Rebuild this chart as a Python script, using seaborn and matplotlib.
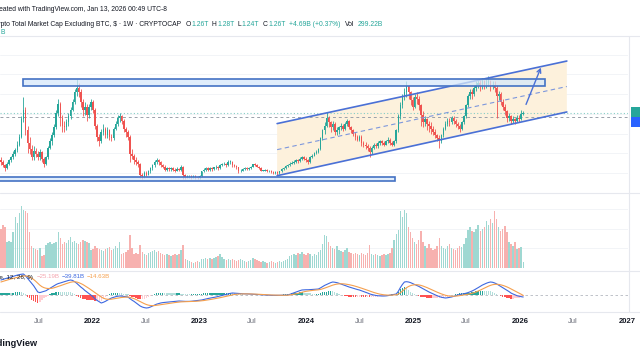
import matplotlib
matplotlib.use("Agg")
import matplotlib.pyplot as plt
import matplotlib.dates as mdates
from matplotlib.patches import Rectangle, Polygon
from matplotlib.lines import Line2D
import numpy as np
import pandas as pd
import seaborn as sns

# ---- weekly candles, values in T ----
first_week = "2021-02-22"
first_open = 0.66
closes = [
    .64, .60, .56, .62, .66, .70, .74, .79, .86, .96,
    1.18, 1.30, 1.05, .88, .80, .70, .78, .74, .70, .76,
    .68, .62, .70, .82, .90, .98, 1.08, 1.26, 1.38, 1.20,
    1.10, 1.08, 1.14, 1.22, 1.30, 1.40, 1.52, 1.58, 1.52, 1.40,
    1.30, 1.34, 1.24, 1.34, 1.40, 1.30, 1.10, .96, .90, 1.02,
    1.06, .98, 1.04, .96, .94, 1.06, 1.12, 1.20, 1.22, 1.16,
    1.06, 1.02, .96, .74, .72, .66, .64, .62, .48, .46,
    .50, .48, .52, .56, .60, .64, .66, .64, .60, .58,
    .54, .56, .55, .56, .54, .53, .55, .54, .58, .47,
    .45, .46, .46, .45, .46, .45, .44, .46, .52, .54,
    .56, .54, .56, .55, .57, .58, .56, .60, .61, .62,
    .60, .64, .64, .60, .59, .57, .52, .53, .55, .56,
    .55, .56, .58, .61, .60, .58, .56, .53, .53, .54,
    .52, .53, .51, .50, .51, .50, .52, .55, .56, .59,
    .60, .62, .63, .64, .66, .65, .68, .70, .68, .66,
    .64, .70, .72, .75, .76, .80, .94, 1.04, 1.10, 1.20,
    1.14, 1.08, 1.12, 1.02, 1.04, 1.08, 1.10, 1.06, 1.12, 1.16,
    1.08, 1.04, 1.00, .96, .92, .96, .88, .86, .84, .82,
    .76, .82, .86, .84, .88, .90, .88, .86, .90, .92,
    .88, .86, .90, 1.04, 1.22, 1.36, 1.46, 1.52, 1.60, 1.52,
    1.42, 1.34, 1.46, 1.44, 1.36, 1.24, 1.14, 1.18, 1.12, 1.10,
    1.06, 1.02, .98, .94, .90, .98, 1.06, 1.12, 1.16, 1.14,
    1.20, 1.16, 1.12, 1.10, 1.06, 1.14, 1.22, 1.36, 1.48, 1.52,
    1.50, 1.58, 1.62, 1.64, 1.60, 1.66, 1.62, 1.64, 1.66, 1.60,
    1.62, 1.58, 1.48, 1.50, 1.40, 1.34, 1.28, 1.20, 1.22, 1.16,
    1.18, 1.16, 1.20, 1.18, 1.25, 1.26,
]
highs = [
    .70, .66, .62, .64, .68, .72, .78, .82, .90, 1.00,
    1.22, 1.46, 1.34, 1.10, .96, .86, .84, .82, .78, .80,
    .78, .70, .72, .84, .94, 1.02, 1.12, 1.30, 1.44, 1.40,
    1.24, 1.16, 1.18, 1.26, 1.34, 1.44, 1.56, 1.69, 1.64, 1.56,
    1.44, 1.40, 1.38, 1.38, 1.44, 1.42, 1.32, 1.12, 1.00, 1.06,
    1.12, 1.08, 1.08, 1.06, 1.00, 1.08, 1.16, 1.24, 1.26, 1.24,
    1.18, 1.08, 1.04, .98, .80, .74, .70, .66, .63, .50,
    .52, .52, .54, .58, .62, .66, .69, .68, .65, .62,
    .60, .58, .58, .58, .57, .56, .57, .56, .60, .59,
    .49, .48, .48, .47, .47, .47, .46, .47, .53, .56,
    .58, .58, .57, .58, .58, .60, .59, .61, .63, .64,
    .63, .66, .67, .65, .61, .60, .58, .55, .56, .58,
    .57, .57, .59, .62, .63, .61, .59, .57, .54, .55,
    .55, .54, .54, .52, .52, .52, .53, .56, .58, .60,
    .62, .64, .65, .66, .68, .68, .70, .72, .72, .70,
    .68, .72, .74, .77, .79, .82, .96, 1.06, 1.14, 1.27,
    1.22, 1.16, 1.16, 1.14, 1.08, 1.10, 1.13, 1.12, 1.14, 1.19,
    1.17, 1.10, 1.06, 1.02, .98, .98, .98, .91, .89, .87,
    .84, .84, .88, .88, .90, .92, .92, .90, .92, .95,
    .94, .90, .92, 1.06, 1.25, 1.40, 1.50, 1.58, 1.66, 1.62,
    1.54, 1.46, 1.50, 1.52, 1.48, 1.38, 1.28, 1.22, 1.20, 1.16,
    1.14, 1.10, 1.06, 1.00, .98, 1.00, 1.08, 1.16, 1.20, 1.20,
    1.22, 1.22, 1.18, 1.15, 1.12, 1.16, 1.24, 1.38, 1.50, 1.56,
    1.56, 1.62, 1.66, 1.68, 1.68, 1.70, 1.68, 1.70, 1.73, 1.68,
    1.66, 1.66, 1.62, 1.54, 1.52, 1.44, 1.38, 1.30, 1.26, 1.24,
    1.22, 1.20, 1.23, 1.24, 1.30, 1.28,
]
lows = [
    .60, .57, .53, .55, .60, .64, .68, .72, .76, .84,
    .94, 1.14, .98, .75, .74, .66, .66, .70, .66, .66,
    .64, .58, .60, .68, .80, .86, .96, 1.06, 1.22, 1.10,
    1.02, 1.02, 1.04, 1.10, 1.18, 1.28, 1.38, 1.48, 1.46, 1.34,
    1.22, 1.24, 1.16, 1.20, 1.30, 1.26, 1.06, .90, .84, .88,
    .98, .94, .94, .92, .90, .92, 1.04, 1.10, 1.14, 1.12,
    1.02, .96, .92, .64, .68, .62, .60, .58, .44, .43,
    .44, .46, .47, .50, .54, .58, .62, .60, .58, .56,
    .52, .52, .53, .53, .52, .51, .52, .52, .53, .43,
    .43, .44, .44, .43, .44, .43, .43, .43, .45, .51,
    .53, .52, .53, .53, .54, .55, .54, .55, .59, .60,
    .58, .59, .62, .58, .57, .55, .50, .51, .52, .54,
    .54, .54, .55, .57, .59, .57, .55, .52, .52, .52,
    .51, .51, .50, .49, .49, .48, .49, .51, .54, .55,
    .58, .59, .61, .62, .63, .63, .64, .66, .66, .64,
    .61, .63, .69, .71, .74, .75, .79, .92, 1.00, 1.08,
    1.08, 1.02, 1.04, .98, .98, 1.00, 1.05, 1.03, 1.04, 1.10,
    1.06, 1.01, .97, .92, .90, .90, .84, .83, .80, .78,
    .70, .74, .80, .82, .82, .86, .86, .84, .85, .88,
    .86, .84, .84, .88, 1.02, 1.18, 1.32, 1.42, 1.46, 1.44,
    1.36, 1.30, 1.32, 1.38, 1.30, 1.10, 1.08, 1.10, 1.04, 1.02,
    1.00, .98, .94, .90, .82, .88, .96, 1.04, 1.10, 1.10,
    1.12, 1.12, 1.08, 1.06, 1.02, 1.04, 1.12, 1.20, 1.34, 1.44,
    1.44, 1.48, 1.54, 1.58, 1.54, 1.56, 1.56, 1.58, 1.60, 1.54,
    1.56, 1.52, 1.20, 1.42, 1.36, 1.30, 1.24, 1.14, 1.16, 1.12,
    1.13, 1.12, 1.14, 1.15, 1.17, 1.24,
]
# weekly volume, B
volumes = [
    2000, 2200, 2100, 1300, 1350, 1300, 1800, 2600, 2300, 2800, 3150,
    2950, 2900, 2800, 1800, 1100, 1000, 950, 900, 1000, 600, 650,
    1150, 1250, 1300, 1200, 1250, 1300, 1800, 1500,
    1200, 1300, 1250, 1400, 1550, 1300, 1350, 1250, 1200, 1300,
    1400, 1350, 1300, 1250, 900, 950, 1100, 1000, 950, 900, 850, 950,
    1000, 1050, 900, 950, 1100, 1000, 1300, 700, 750, 800, 900, 1650,
    1000, 700, 750, 700, 1150,
    800, 700, 650, 750, 800, 850, 900, 800, 850, 750, 700, 650, 700,
    650, 600, 650, 700, 650, 700, 900, 1150,
    450, 400, 350, 300, 250, 300, 350, 300,
    450, 450, 500, 450, 500, 450, 500, 550, 600, 700, 550,
    450, 400, 450, 400, 450, 400, 350, 400, 450, 400, 350, 300, 350, 400,
    500, 450, 400, 350, 300, 350, 300, 250, 300, 350, 300, 250, 300, 350,
    300, 350, 400, 450,
    600, 650, 700, 650, 750, 700, 800, 700, 650, 750, 700,
    600, 700, 650, 800, 900, 1200, 1650, 1600, 1300,
    1100, 1000, 950, 1100, 900, 850, 800, 900, 1000,
    800, 750, 700, 750, 700, 650, 750, 700, 650, 750, 1150,
    700, 650, 700, 650, 600, 650, 700, 650, 700, 750,
    1000, 1400, 1700, 1950, 2900, 2600, 2950, 2800,
    2100, 1800, 1500, 1300, 1200, 1400, 1900,
    1300, 1100, 1000, 1200, 1000, 900, 950, 1100, 1500, 1100,
    1000, 950, 1100, 1200, 1000, 950, 900, 1000, 1100, 1050, 1200,
    1500, 1950, 2100, 1900, 1800, 2000, 2200, 1900,
    2000, 2100, 2400, 2200, 2500, 2300, 2900, 2500,
    2100, 1900, 2000, 2150, 1800, 1300, 1200, 1100, 1300, 950, 1000,
    1050, 299,
]
# MACD (12, 26, 9) lines, B
macd_line = [
    232, 242, 252, 262, 272, 280, 290, 300, 310, 318, 324, 328,
    300, 260, 220, 180, 140, 90, 40, 30, 40,
    50, 60, 80, 100, 120, 140, 160, 175, 184,
    195, 205, 215, 225, 232, 225, 205, 180,
    150, 120, 95, 65, 40, 15, -10, -35,
    -72, -95, -115, -136, -125, -110, -90, -72,
    -56, -45, -35, -28, -24, -26, -30, -35, -40,
    -65, -90, -110, -135, -160, -184, -200, -210, -216,
    -212, -200, -185, -170, -155, -145, -136, -130, -126,
    -123, -120, -118, -115, -112, -108, -104, -106, -108,
    -110, -110, -110, -108, -104, -100, -96, -92, -88,
    -80, -72, -65, -58, -52, -46, -40, -32,
    -24, -15, -6, 2, 10, 18, 24,
    22, 20, 17, 14, 12, 10, 10, 8,
    6, 4, 2, 0, -2, -4, -6, -8,
    -10, -12, -13, -14, -14, -14, -13, -12, -11, -10, -8,
    2, 14, 26, 38, 50, 62, 72,
    74, 76, 76, 78, 80, 82, 85, 88,
    105, 125, 145, 160, 175, 190, 200,
    196, 190, 180, 168, 156, 144, 132, 120,
    110, 100, 90, 80, 72, 60, 48, 36, 24, 10,
    0, -8, -15, -20, -22, -24, -24, -22, -18, -10,
    -4, 2, 8, 50, 110, 160, 200,
    205, 200, 190, 175, 160, 145, 130,
    112, 95, 78, 60, 40, 25, 10, -5, -20,
    -32, -44, -50, -56, -52, -46, -40,
    -30, -20, -8, 0, 6, 12, 20,
    30, 42, 56, 72, 90, 110, 130, 150,
    165, 180, 192, 200, 196, 185, 170,
    150, 130, 110, 90, 70, 48, 24,
    8, -5, -20, -28, -35, -40,
]
signal_line = [
    200, 210, 220, 230, 240, 250, 258, 266, 274, 282, 290, 296,
    298, 292, 280, 262, 240, 212, 180, 150, 126,
    110, 100, 96, 96, 100, 108, 118, 130, 140,
    152, 164, 175, 186, 196, 202, 204, 200,
    190, 176, 160, 140, 120, 98, 75, 52,
    28, 5, -15, -40, -58, -70, -76, -78,
    -75, -70, -64, -58, -52, -47, -44, -42, -41,
    -46, -55, -66, -80, -96, -113, -130, -146, -160,
    -170, -176, -178, -177, -173, -168, -163, -157, -152,
    -147, -142, -137, -133, -129, -125, -121, -118, -116,
    -115, -114, -113, -112, -111, -109, -107, -104, -101,
    -97, -92, -87, -82, -76, -70, -64, -58,
    -51, -44, -37, -29, -22, -14, -6,
    0, 4, 7, 9, 10, 10, 10, 10,
    9, 8, 7, 5, 3, 2, 0, -2,
    -4, -6, -8, -9, -10, -11, -12, -12, -12, -12, -11,
    -8, -3, 3, 10, 18, 27, 36,
    44, 51, 56, 61, 65, 69, 72, 75,
    81, 90, 101, 113, 125, 138, 150,
    159, 166, 170, 172, 171, 168, 163, 157,
    150, 142, 133, 123, 113, 102, 91, 80, 68, 56,
    44, 33, 23, 14, 6, 0, -5, -8, -10, -10,
    -9, -7, -4, 6, 27, 53, 82,
    108, 128, 142, 151, 156, 157, 154,
    146, 136, 124, 111, 96, 82, 67, 52, 37,
    23, 10, -1, -12, -20, -25, -28,
    -28, -26, -23, -18, -14, -9, -4,
    3, 10, 19, 29, 41, 55, 70, 86,
    102, 118, 133, 146, 156, 162, 164,
    161, 155, 146, 135, 122, 107, 90,
    74, 57, 40, 22, 4, -15,
]

# ---- drawings on the chart ----
channel_dates = ["2023-09-24", "2026-06-10"]
channel_upper = [1.126, 1.918]
channel_lower = [0.466, 1.273]
top_zone_dates = ["2021-05-09", "2026-03-28"]
top_zone = [1.602, 1.687]
bottom_zone_dates = ["2020-12-01", "2024-10-31"]
bottom_zone = [0.403, 0.454]
arrow_dates = ["2026-01-18", "2026-03-17"]
arrow_values = [1.336, 1.868]
last_price = 1.26
ref_level = 1.21

tick_dates = ["2021-07-01", "2022-01-01", "2022-07-01", "2023-01-01", "2023-07-01",
              "2024-01-01", "2024-07-01", "2025-01-01", "2025-07-01", "2026-01-01",
              "2026-07-01", "2027-01-01"]
tick_labels = ["Jul", "2022", "Jul", "2023", "Jul", "2024", "Jul", "2025", "Jul",
               "2026", "Jul", "2027"]
x_range = ["2021-02-19", "2027-01-05"]
price_grid = [0.5, 0.75, 1.0, 1.25, 1.5, 1.75, 2.0]
volume_grid = [1000, 2000, 3000]

UP, DOWN = "#26a69a", "#ef5350"
VUP, VDOWN = "#9fd8d2", "#f7b1af"
BLUE = "#4a70d6"
TXT = "#131722"

weeks = pd.date_range(first_week, periods=len(closes), freq="7D")
df = pd.DataFrame({"date": weeks, "close": closes, "high": highs, "low": lows,
                   "volume": volumes, "macd": macd_line, "signal": signal_line})
df["open"] = [first_open] + closes[:-1]
df["x"] = mdates.date2num(df["date"])
df["up"] = df["close"] >= df["open"]
df["hist"] = df["macd"] - df["signal"]

sns.set_style("white")
plt.rcParams["font.family"] = ["Liberation Sans", "DejaVu Sans"]

W, H = 640, 360
fig = plt.figure(figsize=(6.4, 3.6), dpi=100)


def pane(top, bottom):
    return fig.add_axes([0, 1 - bottom / H, 628 / W, (bottom - top) / H])


ax_p = pane(36, 190)
ax_v = pane(195, 268)
ax_m = pane(273, 312)
xl = mdates.date2num(pd.to_datetime(x_range))

# price pane
for g in price_grid:
    ax_p.axhline(g, color="#f0f2f6", lw=0.6, zorder=0)

cx = mdates.date2num(pd.to_datetime(channel_dates))
ax_p.add_patch(Polygon([(cx[0], channel_lower[0]), (cx[1], channel_lower[1]),
                        (cx[1], channel_upper[1]), (cx[0], channel_upper[0])],
                       closed=True, fc="#fdf1dc", ec="none", zorder=1))

cols = np.where(df["up"], UP, DOWN)
ax_p.vlines(df["x"], df["low"], df["high"], colors=cols, lw=0.6, zorder=3)
body_lo = np.minimum(df["open"], df["close"])
body_h = np.maximum(np.abs(df["close"] - df["open"]), 0.006)
ax_p.bar(df["x"], body_h, bottom=body_lo, width=5.2, color=cols, lw=0, zorder=4)

ax_p.plot(cx, channel_upper, color=BLUE, lw=1.2, zorder=5)
ax_p.plot(cx, channel_lower, color=BLUE, lw=1.2, zorder=5)
ax_p.plot(cx, [(a + b) / 2 for a, b in zip(channel_upper, channel_lower)],
          color="#7d97dc", lw=0.8, ls=(0, (4, 3)), zorder=5)

for dates, (lo, hi) in ((top_zone_dates, top_zone), (bottom_zone_dates, bottom_zone)):
    zx = mdates.date2num(pd.to_datetime(dates))
    ax_p.add_patch(Rectangle((zx[0], lo), zx[1] - zx[0], hi - lo,
                             fc=(0.84, 0.91, 0.98, 0.75), ec="#4472c4", lw=1.2, zorder=6))

ax_p.axhline(last_price, color="#86cdc5", lw=0.8, ls=(0, (1, 2)), zorder=2)
ax_p.axhline(ref_level, color="#9aa0aa", lw=0.7, ls=(0, (3, 3)), zorder=2)

arr_x = mdates.date2num(pd.to_datetime(arrow_dates))
ax_p.annotate("", xy=(arr_x[1], arrow_values[1]), xytext=(arr_x[0], arrow_values[0]),
              arrowprops=dict(arrowstyle="->", color=BLUE, lw=1.0, mutation_scale=7),
              zorder=7)
ax_p.set_ylim(0.285, 2.235)
ax_p.set_xticks([])

# volume pane
for g in volume_grid:
    ax_v.axhline(g, color="#f0f2f6", lw=0.6, zorder=0)
ax_v.bar(df["x"], df["volume"], width=4.8, color=np.where(df["up"], VUP, VDOWN),
         lw=0, zorder=2)
ax_v.set_ylim(0, 3700)
ax_v.set_xticks([])

# MACD pane
ax_m.axhline(0, color="#b4b8c0", lw=0.6, ls=(0, (3, 3)), zorder=1)
prev = df["hist"].shift(1).fillna(0)
hcols = np.where(df["hist"] >= 0,
                 np.where(df["hist"] >= prev, "#26a69a", "#b2dfdb"),
                 np.where(df["hist"] < prev, "#ff5252", "#ffcdd2"))
ax_m.bar(df["x"], df["hist"], width=4.8, color=hcols, lw=0, zorder=2)
sns.lineplot(x=df["x"], y=df["macd"], ax=ax_m, color="#3d68e0", lw=0.8, zorder=3)
sns.lineplot(x=df["x"], y=df["signal"], ax=ax_m, color="#f5a04e", lw=0.8, zorder=3)
ax_m.set_xlabel("")
ax_m.set_ylabel("")
ax_m.set_ylim(-280, 344)
ax_m.set_xticks(mdates.date2num(pd.to_datetime(tick_dates)))
ax_m.set_xticklabels(tick_labels)
ax_m.tick_params(axis="x", length=0, pad=4.5, labelsize=5.5)
for lab in ax_m.get_xticklabels():
    if lab.get_text() == "Jul":
        lab.set_color("#6a6d78")
    else:
        lab.set_color(TXT)
        lab.set_fontweight("bold")

for ax in (ax_p, ax_v, ax_m):
    ax.set_xlim(xl)
    for s in ax.spines.values():
        s.set_visible(False)
    ax.set_yticks([])
    ax.set_facecolor("white")

# separators
for yy in (36, 192.5, 271, 312):
    fig.add_artist(Line2D([0, 1], [1 - yy / H] * 2, color="#e6e8ee", lw=0.8))
fig.add_artist(Line2D([628.5 / W] * 2, [1 - 312 / H, 1 - 36 / H], color="#e6e8ee", lw=0.8))

# price scale labels (cut off at the right edge)
fig.add_artist(Rectangle((631 / W, 1 - 117 / H), 9 / W, 10 / H, transform=fig.transFigure,
                         fc="#26a69a", ec="none"))
fig.add_artist(Rectangle((631 / W, 1 - 127 / H), 9 / W, 10 / H, transform=fig.transFigure,
                         fc="#2962ff", ec="none"))


def ftext(x, y, s, **kw):
    kw.setdefault("fontsize", 4.9)
    kw.setdefault("color", TXT)
    fig.text(x / W, 1 - y / H, s, va="center", **kw)


ftext(167, 9.5, "Created with TradingView.com, Jan 13, 2026 00:49 UTC-8", ha="right")
ftext(181, 24, "Crypto Total Market Cap Excluding BTC, $ · 1W · CRYPTOCAP", ha="right")
for x, s, c in ((186, "O", TXT), (191, "1.26T", UP), (212, "H", TXT), (217, "1.28T", UP),
                (237, "L", TXT), (241, "1.24T", UP), (263, "C", TXT), (268, "1.26T", UP),
                (289, "+4.69B (+0.37%)", UP), (345, "Vol", TXT), (358, "299.22B", UP)):
    ftext(x, 24, s, color=c, ha="left")
ftext(0.5, 33, "B", color=UP, ha="left")

ftext(33, 277, "MACD (close, 12, 26, 9)", ha="right", fontsize=4.5)
ftext(37, 277, "−25.19B", color="#f4a3ae", ha="left", fontsize=4.4)
ftext(62, 277, "−39.81B", color="#3d68e0", ha="left", fontsize=4.4)
ftext(87, 277, "−14.63B", color="#f5a04e", ha="left", fontsize=4.4)

ftext(38, 343, "TradingView", ha="right", fontsize=6.6, fontweight="bold")

fig.savefig("out.png", dpi=100, facecolor="white")
